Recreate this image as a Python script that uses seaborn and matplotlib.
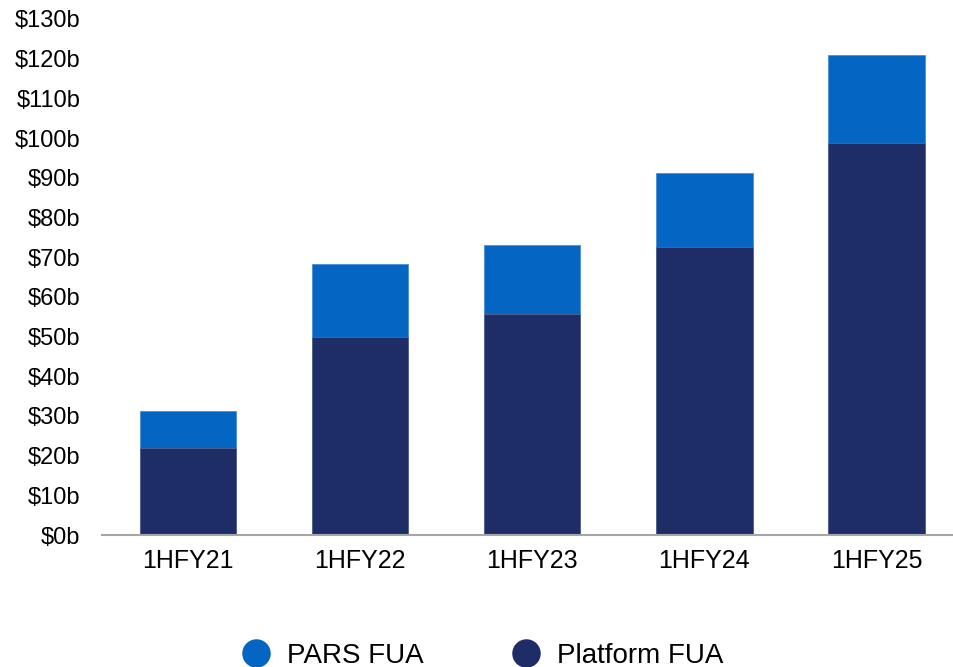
import pandas as pd
import matplotlib.pyplot as plt
import seaborn as sns
from matplotlib.lines import Line2D

# values in $b
periods = ["1HFY21", "1HFY22", "1HFY23", "1HFY24", "1HFY25"]
platform_fua = [22.0, 49.9, 55.8, 72.5, 98.8]
pars_fua = [9.2, 18.4, 17.2, 18.7, 22.2]

pars_color = "#0565C2"
platform_color = "#1F2D66"

df = pd.DataFrame({"period": periods, "platform": platform_fua, "pars": pars_fua})
df["total"] = df["platform"] + df["pars"]

sns.set_style("white")
plt.rcParams["font.family"] = ["Liberation Sans", "DejaVu Sans"]

fig = plt.figure(figsize=(9.54, 6.67), dpi=100)
ax = fig.add_axes([102 / 954, 132 / 667, 852 / 954, 516 / 667])

# stacked look: total bar in PARS colour, platform bar drawn over it
sns.barplot(data=df, x="period", y="total", color=pars_color, saturation=1,
            width=0.56, edgecolor="#4a8fd6", linewidth=0.6, ax=ax)
sns.barplot(data=df, x="period", y="platform", color=platform_color, saturation=1,
            width=0.56, edgecolor="#5a6590", linewidth=0.6, ax=ax)

ax.set_ylim(0, 130)
ax.set_xlim(-0.5, 4.45)
ax.set_yticks(range(0, 131, 10))
ax.set_yticklabels([f"${v}b" for v in range(0, 131, 10)], fontsize=17)
ax.tick_params(axis="x", labelsize=18, length=0, pad=10, labelcolor="black")
ax.tick_params(axis="y", length=0, pad=15.5, labelcolor="black")
ax.set_xlabel("")
ax.set_ylabel("")

for side in ["top", "right", "left"]:
    ax.spines[side].set_visible(False)
ax.spines["bottom"].set_color("#a6a6a6")
ax.spines["bottom"].set_linewidth(1.5)

handles = [
    Line2D([], [], marker="o", linestyle="", markersize=19.5, color=pars_color, label="PARS FUA"),
    Line2D([], [], marker="o", linestyle="", markersize=19.5, color=platform_color, label="Platform FUA"),
]
fig.legend(handles=handles, loc="center", bbox_to_anchor=(0.506, 0.017), ncol=2,
           frameon=False, fontsize=20, handlelength=1.0, columnspacing=3.2,
           handletextpad=0.61, labelcolor="black")

fig.savefig("out.png", dpi=100)
